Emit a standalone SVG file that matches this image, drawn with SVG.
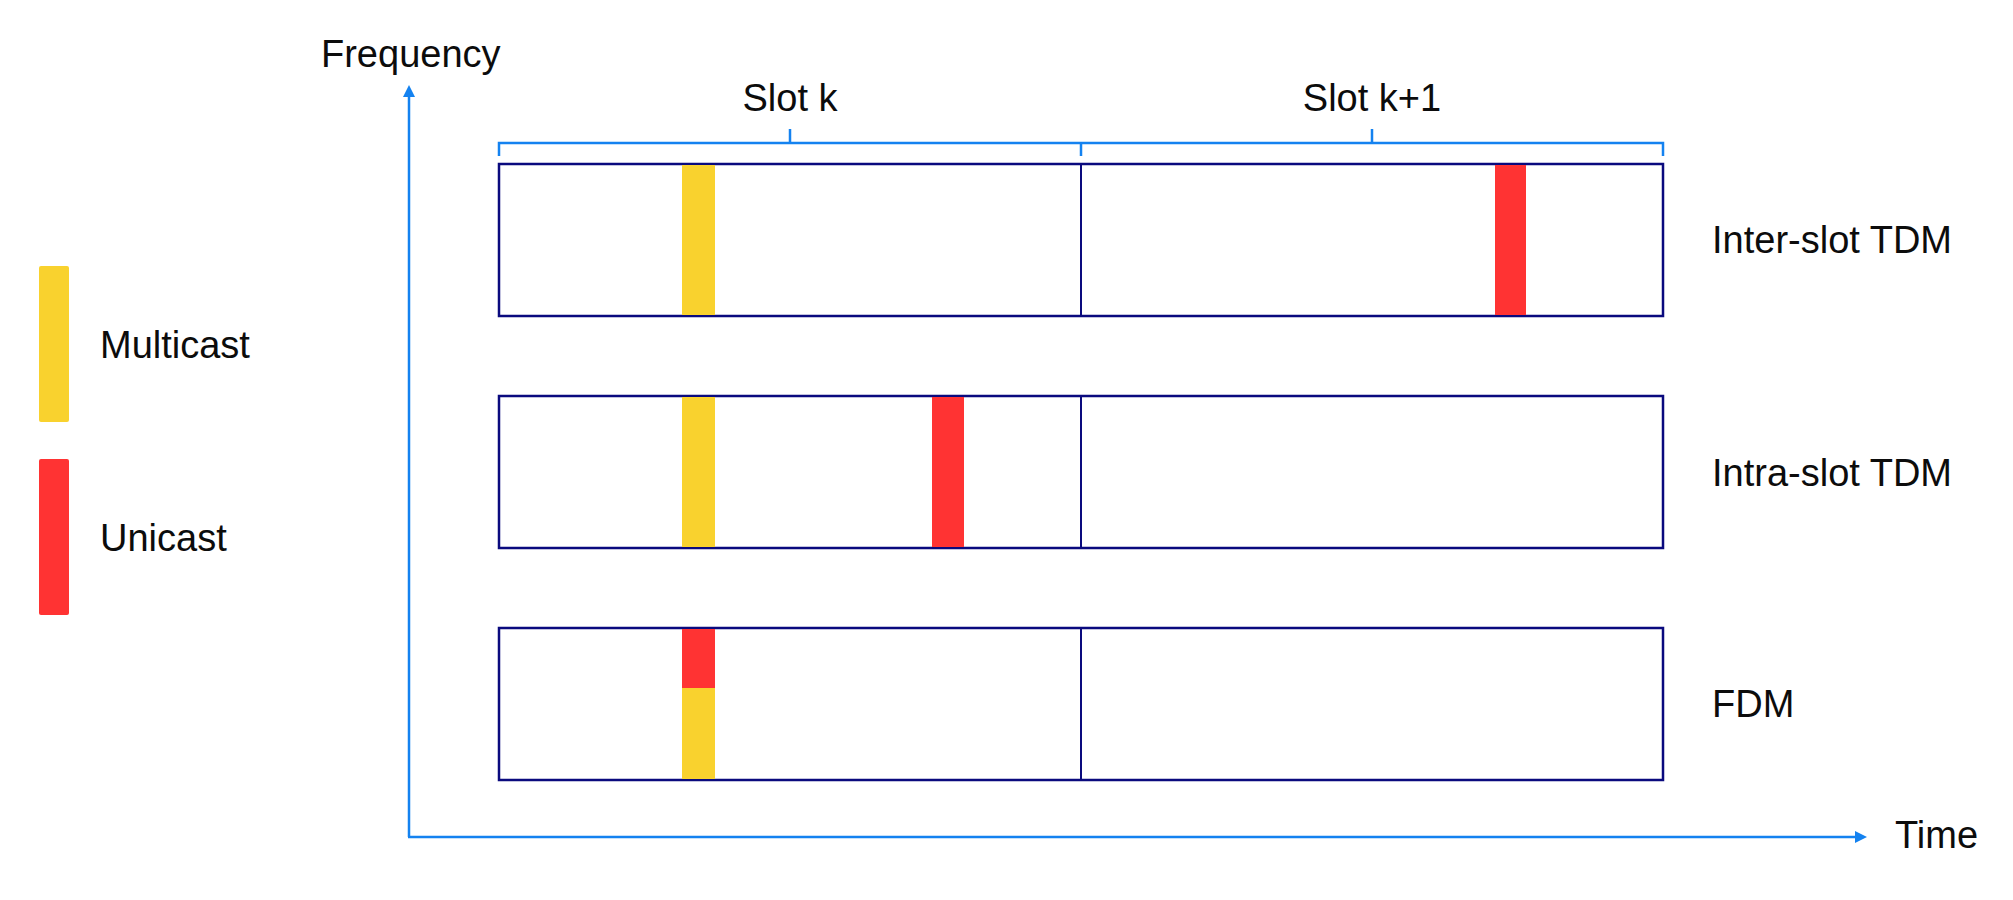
<svg xmlns="http://www.w3.org/2000/svg" width="2013" height="900" viewBox="0 0 2013 900">
<style>
  text { font-family: "Liberation Sans", Arial, sans-serif; font-size: 38px; fill: #0c0c0c; }
  .axis { stroke: #1482F0; stroke-width: 2.5; fill: none; }
  .box { stroke: #0A0A7E; stroke-width: 2.5; fill: #ffffff; }
  .div { stroke: #0A0A7E; stroke-width: 2; }
  .yel { fill: #F9D22E; }
  .red { fill: #FF3333; }
</style>
<defs>
  <marker id="arr" viewBox="0 0 12 12" refX="0" refY="6" markerWidth="12" markerHeight="12" markerUnits="userSpaceOnUse" orient="auto">
    <path d="M0,0 L12,6 L0,12 z" fill="#1482F0"/>
  </marker>
</defs>
<rect width="2013" height="900" fill="#ffffff"/>

<g id="connectors">
  <line class="axis" x1="409" y1="837" x2="409" y2="97" marker-end="url(#arr)"/>
  <line class="axis" x1="408" y1="837" x2="1855" y2="837" marker-end="url(#arr)"/>
  <path class="axis" d="M499,156 V143 H1663 V156 M1081,143 V156 M790,143 V129 M1372,143 V129"/>
</g>

<g id="axis-labels">
  <text x="321" y="67">Frequency</text>
  <text x="1895" y="848">Time</text>
  <text x="790" y="111" text-anchor="middle">Slot k</text>
  <text x="1372" y="111" text-anchor="middle">Slot k+1</text>
</g>

<g id="legend">
  <rect class="yel" x="39" y="266" width="30" height="156" rx="2"/>
  <text x="100" y="358">Multicast</text>
  <rect class="red" x="39" y="459" width="30" height="156" rx="2"/>
  <text x="100" y="551">Unicast</text>
</g>

<g id="row-inter">
  <rect class="box" x="499" y="164" width="1164" height="152"/>
  <rect class="yel" x="682" y="165" width="33" height="150"/>
  <rect class="red" x="1495" y="165" width="31" height="150"/>
  <line class="div" x1="1081" y1="164" x2="1081" y2="316"/>
  <text x="1712" y="253">Inter-slot TDM</text>
</g>

<g id="row-intra">
  <rect class="box" x="499" y="396" width="1164" height="152"/>
  <rect class="yel" x="682" y="397" width="33" height="150"/>
  <rect class="red" x="932" y="397" width="32" height="150"/>
  <line class="div" x1="1081" y1="396" x2="1081" y2="548"/>
  <text x="1712" y="486">Intra-slot TDM</text>
</g>

<g id="row-fdm">
  <rect class="box" x="499" y="628" width="1164" height="152"/>
  <rect class="red" x="682" y="629" width="33" height="59"/>
  <rect class="yel" x="682" y="688" width="33" height="91"/>
  <line class="div" x1="1081" y1="628" x2="1081" y2="780"/>
  <text x="1712" y="717">FDM</text>
</g>
</svg>
